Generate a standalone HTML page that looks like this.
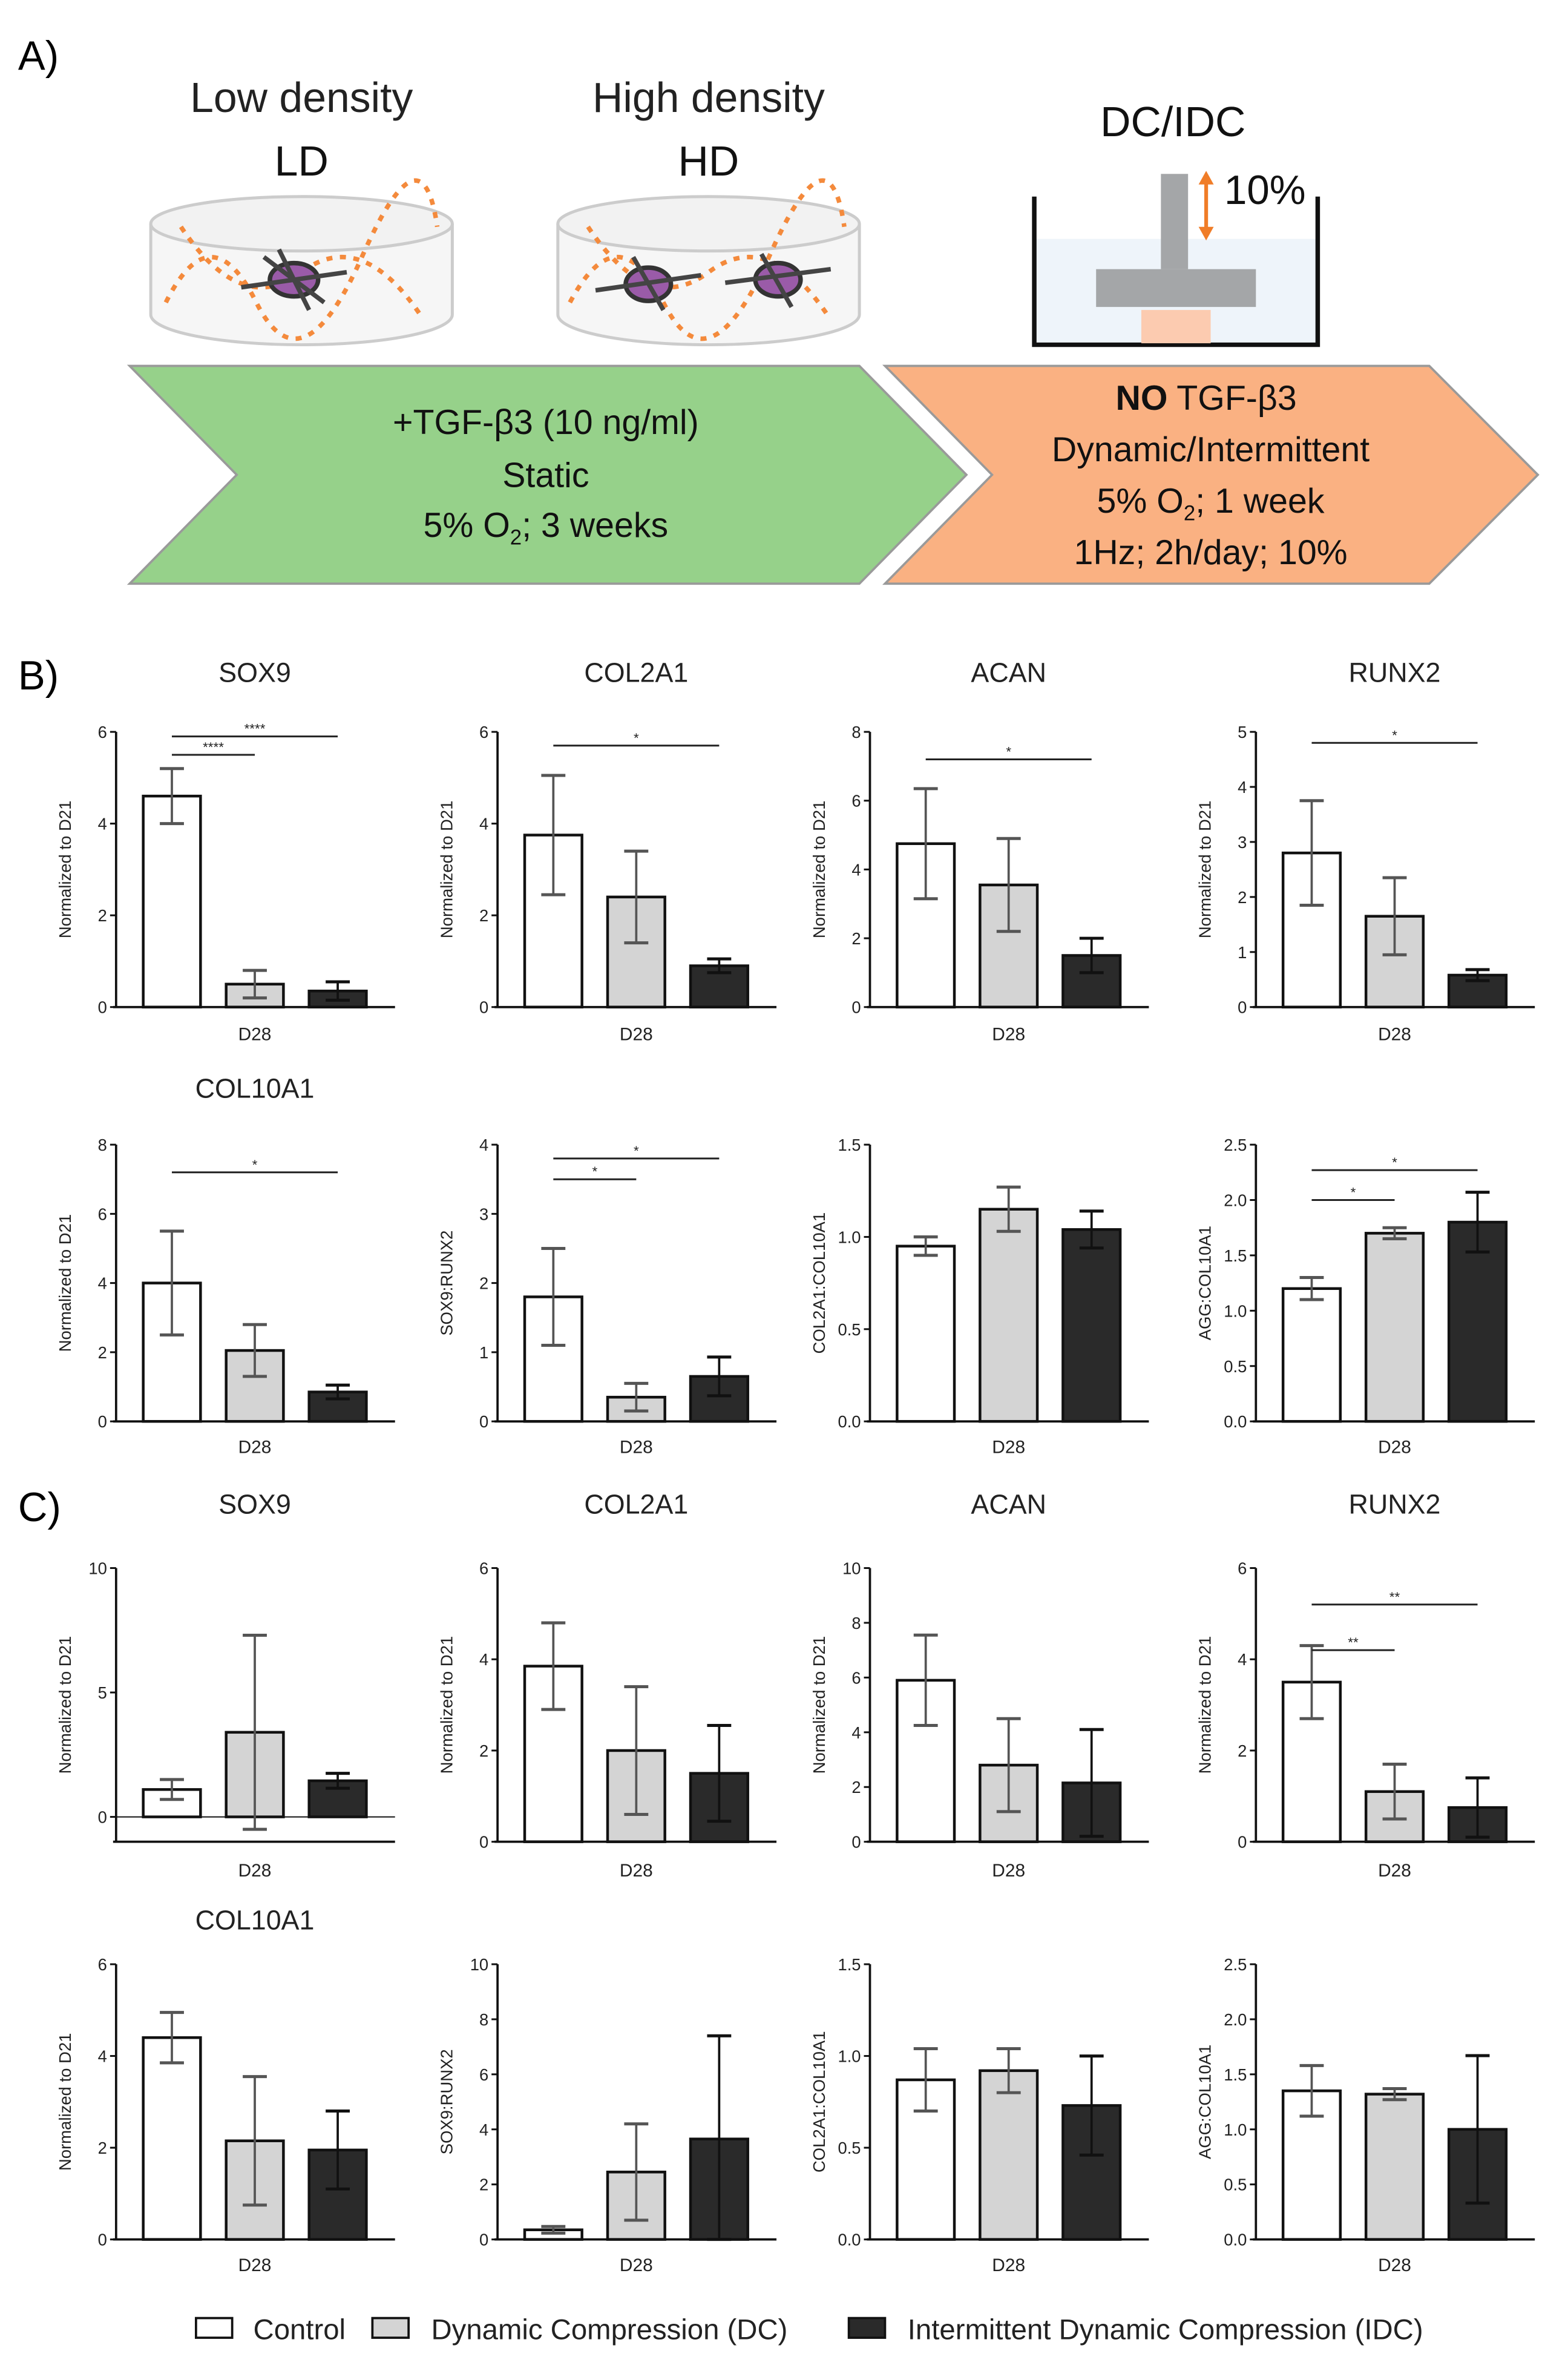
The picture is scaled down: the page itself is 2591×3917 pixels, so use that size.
<!DOCTYPE html>
<html><head><meta charset="utf-8"><style>
html,body{margin:0;padding:0;background:#fff}
svg{display:block}
text{font-family:"Liberation Sans",sans-serif}
</style></head><body>
<svg id="fig" width="2591" height="3917" viewBox="0 0 1040 1568" preserveAspectRatio="none" xmlns="http://www.w3.org/2000/svg">
<rect width="1040" height="1568" fill="#fff"/>
<text x="12" y="46" font-size="27">A)</text>
<text x="12" y="456" font-size="27">B)</text>
<text x="12" y="1006" font-size="27">C)</text>

<g>
<text x="200" y="74" font-size="28" text-anchor="middle" fill="#222">Low density</text>
<text x="200" y="116" font-size="28" text-anchor="middle" fill="#111">LD</text>
<text x="470" y="74" font-size="28" text-anchor="middle" fill="#222">High density</text>
<text x="470" y="116" font-size="28" text-anchor="middle" fill="#111">HD</text>
<text x="778" y="90" font-size="28" text-anchor="middle" fill="#111">DC/IDC</text>
<g>
<path d="M100,148 L100,208 A100,20 0 0 0 300,208 L300,148" fill="#f6f6f6" stroke="#ccc" stroke-width="2"/>
<ellipse cx="200" cy="148" rx="100" ry="18" fill="#f2f2f2" stroke="#ccc" stroke-width="2"/>
<path d="M110,200 Q140,140 170,200 T240,170 T290,150 M120,150 Q160,210 200,180 T280,210" fill="none" stroke="#f48a3c" stroke-width="3" stroke-dasharray="4 5"/>
<ellipse cx="195" cy="185" rx="16" ry="11" fill="#9a5ba8" stroke="#333" stroke-width="3"/>
<path d="M160,190 L230,180 M175,170 L215,200 M185,165 L205,205" stroke="#444" stroke-width="3"/>
</g>
<g>
<path d="M370,148 L370,208 A100,20 0 0 0 570,208 L570,148" fill="#f6f6f6" stroke="#ccc" stroke-width="2"/>
<ellipse cx="470" cy="148" rx="100" ry="18" fill="#f2f2f2" stroke="#ccc" stroke-width="2"/>
<path d="M378,200 Q410,140 440,200 T510,170 T560,150 M390,150 Q430,210 470,180 T550,210" fill="none" stroke="#f48a3c" stroke-width="3" stroke-dasharray="4 5"/>
<ellipse cx="430" cy="188" rx="15" ry="11" fill="#9a5ba8" stroke="#333" stroke-width="3"/>
<ellipse cx="516" cy="185" rx="15" ry="11" fill="#9a5ba8" stroke="#333" stroke-width="3"/>
<path d="M395,192 L465,182 M481,187 L551,178 M420,170 L440,205 M505,168 L525,203" stroke="#444" stroke-width="3"/>
</g>
<g>
<rect x="686" y="158" width="188" height="70" fill="#eef4fa"/>
<path d="M686,130 L686,228 L874,228 L874,130" fill="none" stroke="#111" stroke-width="3"/>
<rect x="770" y="115" width="18" height="63" fill="#a4a6a8"/>
<rect x="727" y="178" width="106" height="25" fill="#a4a6a8"/>
<rect x="757" y="205" width="46" height="22" fill="#fccbb0"/>
<path d="M800,120 L800,152" stroke="#f07d28" stroke-width="2.5"/>
<path d="M795,122 L800,113 L805,122 Z M795,150 L800,159 L805,150 Z" fill="#f07d28"/>
<text x="812" y="135" font-size="27" fill="#111">10%</text>
</g>
<polygon points="86,242 570,242 641,314 570,386 86,386 157,314" fill="#96d18a" stroke="#9a9a9a" stroke-width="1.5"/>
<polygon points="587,242 948,242 1020,314 948,386 587,386 658,314" fill="#fab182" stroke="#9a9a9a" stroke-width="1.5"/>
<g font-size="23" fill="#111" text-anchor="middle">
<text x="362" y="287">+TGF-β3 (10 ng/ml)</text>
<text x="362" y="322">Static</text>
<text x="362" y="355">5% O<tspan font-size="14" dy="5">2</tspan><tspan dy="-5">; 3 weeks</tspan></text>
</g>
<g font-size="23" fill="#111" text-anchor="middle">
<text x="800" y="271"><tspan font-weight="bold">NO</tspan> TGF-β3</text>
<text x="803" y="305">Dynamic/Intermittent</text>
<text x="803" y="339">5% O<tspan font-size="14" dy="5">2</tspan><tspan dy="-5">; 1 week</tspan></text>
<text x="803" y="373">1Hz; 2h/day; 10%</text>
</g>
</g>
<g id="charts"></g>
<g font-size="19" fill="#222">
<rect x="130" y="1533" width="24" height="13" fill="#fff" stroke="#111" stroke-width="1.5"/>
<text x="168" y="1547">Control</text>
<rect x="247" y="1533" width="24" height="13" fill="#d4d4d4" stroke="#111" stroke-width="1.5"/>
<text x="286" y="1547">Dynamic Compression (DC)</text>
<rect x="563" y="1533" width="24" height="13" fill="#2a2a2a" stroke="#111" stroke-width="1.5"/>
<text x="602" y="1547">Intermittent Dynamic Compression (IDC)</text>
</g>
</svg>
<script>
const titles=["SOX9","COL2A1","ACAN","RUNX2","COL10A1","","","","SOX9","COL2A1","ACAN","RUNX2","COL10A1","","",""];
const ylabels=["Normalized to D21","Normalized to D21","Normalized to D21","Normalized to D21","Normalized to D21","SOX9:RUNX2","COL2A1:COL10A1","AGG:COL10A1","Normalized to D21","Normalized to D21","Normalized to D21","Normalized to D21","Normalized to D21","SOX9:RUNX2","COL2A1:COL10A1","AGG:COL10A1"];
const means=[[4.6,0.5,0.35],[3.75,2.4,0.9],[4.75,3.55,1.5],[2.8,1.65,0.58],[4.0,2.05,0.85],[1.8,0.35,0.65],[0.95,1.15,1.04],[1.2,1.7,1.8],
[1.1,3.4,1.45],[3.85,2.0,1.5],[5.9,2.8,2.15],[3.5,1.1,0.75],[4.4,2.15,1.95],[0.35,2.45,3.65],[0.87,0.92,0.73],[1.35,1.32,1.0]];
const errs=[[0.6,0.3,0.2],[1.3,1.0,0.15],[1.6,1.35,0.5],[0.95,0.7,0.1],[1.5,0.75,0.2],[0.7,0.2,0.28],[0.05,0.12,0.1],[0.1,0.05,0.27],
[0.4,3.9,0.3],[0.95,1.4,1.05],[1.65,1.7,1.95],[0.8,0.6,0.65],[0.55,1.4,0.85],[0.12,1.75,3.75],[0.17,0.12,0.27],[0.23,0.05,0.67]];
const ymins=[0,0,0,0,0,0,0,0,-1,0,0,0,0,0,0,0];
const ymaxs=[6,6,8,5,8,4,1.5,2.5,10,6,10,6,6,10,1.5,2.5];
const ticks=[["0","2","4","6"],["0","2","4","6"],["0","2","4","6","8"],["0","1","2","3","4","5"],["0","2","4","6","8"],["0","1","2","3","4"],["0.0","0.5","1.0","1.5"],["0.0","0.5","1.0","1.5","2.0","2.5"],
["0","5","10"],["0","2","4","6"],["0","2","4","6","8","10"],["0","2","4","6"],["0","2","4","6"],["0","2","4","6","8","10"],["0.0","0.5","1.0","1.5"],["0.0","0.5","1.0","1.5","2.0","2.5"]];
const sigs=[[0,0,1,5.5,"****"],[0,0,2,5.9,"****"],[1,0,2,5.7,"*"],[2,0,2,7.2,"*"],[3,0,2,4.8,"*"],[4,0,2,7.2,"*"],[5,0,1,3.5,"*"],[5,0,2,3.8,"*"],[7,0,1,2.0,"*"],[7,0,2,2.27,"*"],[11,0,1,4.2,"**"],[11,0,2,5.2,"**"]];
const colors=["#ffffff","#d4d4d4","#2a2a2a"];
const axisX=[77,330,577,833];
const rowTop=[484,757,1037,1299], rowBot=[666,940,1218,1481], titleY=[451,726,1001,1276], d28Y=[688,961,1241,1502];
const NS="http://www.w3.org/2000/svg";
const root=document.getElementById('charts');
function mk(tag,attrs,parent){const e=document.createElementNS(NS,tag);for(const k in attrs)e.setAttribute(k,attrs[k]);parent.appendChild(e);return e;}
for(let i=0;i<16;i++){
  const row=Math.floor(i/4), col=i%4;
  const ax=axisX[col], top=rowTop[row], bot=rowBot[row];
  const ymin=ymins[i], ymax=ymaxs[i];
  const y=v=>bot-(v-ymin)/(ymax-ymin)*(bot-top);
  const bx=k=>ax+37+55*k;
  const g=mk('g',{},root);
  
  
  if(titles[i]){const t=mk('text',{x:ax+92,y:titleY[row],'font-size':18,'text-anchor':'middle',fill:'#222'},g);t.textContent=titles[i];
    }
  const yl=mk('text',{x:0,y:0,'font-size':11,'text-anchor':'middle',fill:'#222',transform:`translate(${ax-30},${(top+bot)/2}) rotate(-90)`},g);
  yl.textContent=ylabels[i];
  
  mk('line',{x1:ax,y1:top,x2:ax,y2:bot,stroke:'#111','stroke-width':1.5},g);
  mk('line',{x1:ax-2,y1:bot,x2:ax+185,y2:bot,stroke:'#111','stroke-width':1.5},g);
  ticks[i].forEach(tl=>{const v=parseFloat(tl);const yy=y(v);
    mk('line',{x1:ax-4,y1:yy,x2:ax,y2:yy,stroke:'#111','stroke-width':1.2},g);
    const t=mk('text',{x:ax-6,y:yy+4,'font-size':11,'text-anchor':'end',fill:'#222'},g);t.textContent=tl;
    });
  if(ymin<0) mk('line',{x1:ax,y1:y(0),x2:ax+185,y2:y(0),stroke:'#111','stroke-width':0.8},g);
  means[i].forEach((m,k)=>{
    const r=mk('rect',{x:bx(k)-19,y:y(m),width:38,height:y(0)-y(m),fill:colors[k],stroke:'#111','stroke-width':1.8},g);
    
    const e=errs[i][k], lo=Math.max(m-e,ymin), hi=m+e;
    const ec=k==2?'#111':'#555';
    mk('line',{x1:bx(k),y1:y(lo),x2:bx(k),y2:y(hi),stroke:ec,'stroke-width':1.5},g);
    mk('line',{x1:bx(k)-8,y1:y(hi),x2:bx(k)+8,y2:y(hi),stroke:ec,'stroke-width':2},g);
    mk('line',{x1:bx(k)-8,y1:y(lo),x2:bx(k)+8,y2:y(lo),stroke:ec,'stroke-width':2},g);
  });
  const d=mk('text',{x:ax+92,y:d28Y[row],'font-size':12,'text-anchor':'middle',fill:'#222'},g);d.textContent='D28';
  
}
sigs.forEach(s=>{
  const [i,a,b,v,lab]=s;const row=Math.floor(i/4),col=i%4;const ax=axisX[col],top=rowTop[row],bot=rowBot[row];
  const y=val=>bot-(val-ymins[i])/(ymaxs[i]-ymins[i])*(bot-top);
  const bx=k=>ax+37+55*k;
  const l=mk('line',{x1:bx(a),y1:y(v),x2:bx(b),y2:y(v),stroke:'#222','stroke-width':1.2},root);
  
  const t=mk('text',{x:(bx(a)+bx(b))/2,y:y(v)-2,'font-size':9,'text-anchor':'middle',fill:'#222'},root);t.textContent=lab;
  
});
</script>
</body></html>
